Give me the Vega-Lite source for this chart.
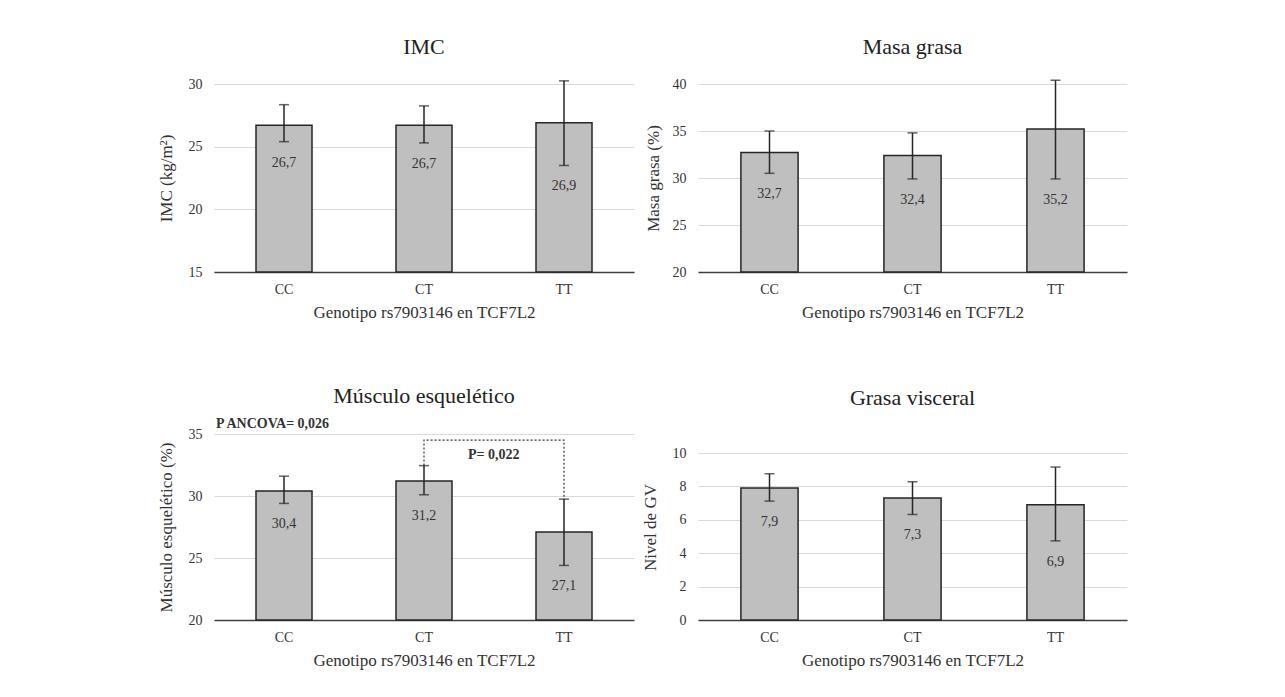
{
  "$schema": "https://vega.github.io/schema/vega-lite/v6.json",
  "background": "white",
  "padding": {"left": 157, "top": 36, "right": 5, "bottom": 5},
  "datasets": {
    "barras": [
      {"panel": "IMC", "genotipo": "CC", "media": 26.7, "inf": 25.4, "sup": 28.35},
      {"panel": "IMC", "genotipo": "CT", "media": 26.7, "inf": 25.3, "sup": 28.25},
      {"panel": "IMC", "genotipo": "TT", "media": 26.9, "inf": 23.5, "sup": 30.25},
      {"panel": "MG", "genotipo": "CC", "media": 32.7, "inf": 30.5, "sup": 35.0},
      {"panel": "MG", "genotipo": "CT", "media": 32.4, "inf": 29.9, "sup": 34.8},
      {"panel": "MG", "genotipo": "TT", "media": 35.2, "inf": 29.9, "sup": 40.4},
      {"panel": "ME", "genotipo": "CC", "media": 30.4, "inf": 29.4, "sup": 31.6},
      {"panel": "ME", "genotipo": "CT", "media": 31.2, "inf": 30.1, "sup": 32.45},
      {"panel": "ME", "genotipo": "TT", "media": 27.1, "inf": 24.4, "sup": 29.75},
      {"panel": "GV", "genotipo": "CC", "media": 7.9, "inf": 7.12, "sup": 8.76},
      {"panel": "GV", "genotipo": "CT", "media": 7.3, "inf": 6.32, "sup": 8.28},
      {"panel": "GV", "genotipo": "TT", "media": 6.9, "inf": 4.74, "sup": 9.16}
    ],
    "corchete": [
      {"genotipo": "CT", "valor": 32.45, "orden": 1},
      {"genotipo": "CT", "valor": 34.5, "orden": 2},
      {"genotipo": "TT", "valor": 34.5, "orden": 3},
      {"genotipo": "TT", "valor": 29.75, "orden": 4}
    ],
    "anotaciones": [
      {"texto": "P ANCOVA= 0,026", "genotipo": "CC", "valor": 35, "tipo": "global"},
      {"texto": "P= 0,022", "genotipo": "CT", "valor": 33.3, "tipo": "par"}
    ]
  },
  "concat": [
    {
      "width": 420, "height": 188,
      "title": {"text": "IMC", "offset": 18},
      "data": {"name": "barras"},
      "transform": [{"filter": "datum.panel == 'IMC'"}],
      "encoding": {
        "x": {"field": "genotipo", "type": "nominal", "sort": ["CC", "CT", "TT"],
              "scale": {"paddingInner": 0.6, "paddingOuter": 0.3},
              "axis": {"title": "Genotipo rs7903146 en TCF7L2", "labelAngle": 0}}
      },
      "layer": [
        {"mark": {"type": "bar", "fill": "#bfbfbf", "stroke": "#262626", "strokeWidth": 1.5},
         "encoding": {"y": {"field": "media", "type": "quantitative", "title": "IMC  (kg/m²)",
                            "scale": {"domain": [15, 30], "nice": false, "zero": false},
                            "axis": {"values": [15, 20, 25, 30], "tickCount": 20, "format": "d", "titlePadding": 13}},
                      "y2": {"datum": 15}}},
        {"mark": {"type": "errorbar", "color": "#262626", "thickness": 1.5, "ticks": {"size": 10, "thickness": 1.5, "color": "#262626"}},
         "encoding": {"y": {"field": "inf", "type": "quantitative", "title": "IMC  (kg/m²)"}, "y2": {"field": "sup"}}},
        {"mark": {"type": "text", "dy": 21, "fontSize": 14, "color": "#333333", "baseline": "middle"},
         "encoding": {"y": {"field": "inf", "type": "quantitative", "title": "IMC  (kg/m²)"}, "text": {"field": "media", "type": "quantitative", "format": ".1f"}}}
      ]
    },
    {
      "width": 429, "height": 188,
      "title": {"text": "Masa grasa", "offset": 18},
      "data": {"name": "barras"},
      "transform": [{"filter": "datum.panel == 'MG'"}],
      "encoding": {
        "x": {"field": "genotipo", "type": "nominal", "sort": ["CC", "CT", "TT"],
              "scale": {"paddingInner": 0.6, "paddingOuter": 0.3},
              "axis": {"title": "Genotipo rs7903146 en TCF7L2", "labelAngle": 0}}
      },
      "layer": [
        {"mark": {"type": "bar", "fill": "#bfbfbf", "stroke": "#262626", "strokeWidth": 1.5},
         "encoding": {"y": {"field": "media", "type": "quantitative", "title": "Masa grasa (%)",
                            "scale": {"domain": [20, 40], "nice": false, "zero": false},
                            "axis": {"values": [20, 25, 30, 35, 40], "tickCount": 20, "format": "d", "titlePadding": 10}},
                      "y2": {"datum": 20}}},
        {"mark": {"type": "errorbar", "color": "#262626", "thickness": 1.5, "ticks": {"size": 10, "thickness": 1.5, "color": "#262626"}},
         "encoding": {"y": {"field": "inf", "type": "quantitative", "title": "Masa grasa (%)"}, "y2": {"field": "sup"}}},
        {"mark": {"type": "text", "dy": 21, "fontSize": 14, "color": "#333333", "baseline": "middle"},
         "encoding": {"y": {"field": "inf", "type": "quantitative", "title": "Masa grasa (%)"}, "text": {"field": "media", "type": "quantitative", "format": ".1f"}}}
      ]
    },
    {
      "width": 420, "height": 186,
      "title": {"text": "Músculo esquelético", "offset": 9},
      "encoding": {
        "x": {"field": "genotipo", "type": "nominal", "sort": ["CC", "CT", "TT"],
              "scale": {"paddingInner": 0.6, "paddingOuter": 0.3},
              "axis": {"title": "Genotipo rs7903146 en TCF7L2", "labelAngle": 0}}
      },
      "layer": [
        {"data": {"name": "barras"}, "transform": [{"filter": "datum.panel == 'ME'"}],
         "mark": {"type": "bar", "fill": "#bfbfbf", "stroke": "#262626", "strokeWidth": 1.5},
         "encoding": {"y": {"field": "media", "type": "quantitative", "title": "Músculo esquelético (%)",
                            "scale": {"domain": [20, 35], "nice": false, "zero": false},
                            "axis": {"values": [20, 25, 30, 35], "tickCount": 20, "format": "d", "titlePadding": 13}},
                      "y2": {"datum": 20}}},
        {"data": {"name": "barras"}, "transform": [{"filter": "datum.panel == 'ME'"}],
         "mark": {"type": "errorbar", "color": "#262626", "thickness": 1.5, "ticks": {"size": 10, "thickness": 1.5, "color": "#262626"}},
         "encoding": {"y": {"field": "inf", "type": "quantitative", "title": "Músculo esquelético (%)"}, "y2": {"field": "sup"}}},
        {"data": {"name": "barras"}, "transform": [{"filter": "datum.panel == 'ME'"}],
         "mark": {"type": "text", "dy": 21, "fontSize": 14, "color": "#333333", "baseline": "middle"},
         "encoding": {"y": {"field": "inf", "type": "quantitative", "title": "Músculo esquelético (%)"}, "text": {"field": "media", "type": "quantitative", "format": ".1f"}}},
        {"data": {"name": "corchete"},
         "mark": {"type": "line", "color": "#333333", "strokeWidth": 1.2, "strokeDash": [2, 2]},
         "encoding": {"y": {"field": "valor", "type": "quantitative", "title": "Músculo esquelético (%)"}, "order": {"field": "orden", "type": "quantitative"}}},
        {"data": {"name": "anotaciones"}, "transform": [{"filter": "datum.tipo == 'global'"}],
         "mark": {"type": "text", "align": "left", "baseline": "middle", "dx": -68, "dy": -10, "fontSize": 14, "fontWeight": "bold", "color": "#333333"},
         "encoding": {"y": {"field": "valor", "type": "quantitative", "title": "Músculo esquelético (%)"}, "text": {"field": "texto"}}},
        {"data": {"name": "anotaciones"}, "transform": [{"filter": "datum.tipo == 'par'"}],
         "mark": {"type": "text", "align": "left", "baseline": "middle", "dx": 44, "fontSize": 14, "fontWeight": "bold", "color": "#333333"},
         "encoding": {"y": {"field": "valor", "type": "quantitative", "title": "Músculo esquelético (%)"}, "text": {"field": "texto"}}}
      ]
    },
    {
      "width": 429, "height": 186,
      "title": {"text": "Grasa visceral", "offset": 24},
      "data": {"name": "barras"},
      "transform": [{"filter": "datum.panel == 'GV'"}],
      "encoding": {
        "x": {"field": "genotipo", "type": "nominal", "sort": ["CC", "CT", "TT"],
              "scale": {"paddingInner": 0.6, "paddingOuter": 0.3},
              "axis": {"title": "Genotipo rs7903146 en TCF7L2", "labelAngle": 0}}
      },
      "layer": [
        {"mark": {"type": "bar", "fill": "#bfbfbf", "stroke": "#262626", "strokeWidth": 1.5},
         "encoding": {"y": {"field": "media", "type": "quantitative", "title": "Nivel de GV",
                            "scale": {"domain": [0, 11.14], "nice": false},
                            "axis": {"values": [0, 2, 4, 6, 8, 10], "tickCount": 20, "format": "d", "titlePadding": 13}},
                      "y2": {"datum": 0}}},
        {"mark": {"type": "errorbar", "color": "#262626", "thickness": 1.5, "ticks": {"size": 10, "thickness": 1.5, "color": "#262626"}},
         "encoding": {"y": {"field": "inf", "type": "quantitative", "title": "Nivel de GV"}, "y2": {"field": "sup"}}},
        {"mark": {"type": "text", "dy": 21, "fontSize": 14, "color": "#333333", "baseline": "middle"},
         "encoding": {"y": {"field": "inf", "type": "quantitative", "title": "Nivel de GV"}, "text": {"field": "media", "type": "quantitative", "format": ".1f"}}}
      ]
    }
  ],
  "columns": 2,
  "spacing": {"row": 162, "column": 64},
  "bounds": "flush",
  "config": {
    "font": "Liberation Serif",
    "locale": {"number": {"decimal": ",", "thousands": ".", "grouping": [3], "currency": ["", " €"]}},
    "view": {"stroke": null},
    "axis": {
      "labelFont": "Liberation Serif", "labelFontSize": 14, "labelColor": "#333333",
      "titleFont": "Liberation Serif", "titleFontSize": 17, "titleFontWeight": "normal", "titleColor": "#333333",
      "gridColor": "#d9d9d9", "gridWidth": 1, "ticks": false, "domain": false
    },
    "axisX": {"domain": true, "domainColor": "#404040", "domainWidth": 1.5, "grid": false, "labelPadding": 10, "titlePadding": 8},
    "axisY": {"grid": true, "labelPadding": 12, "titlePadding": 12},
    "title": {"font": "Liberation Serif", "fontSize": 22, "fontWeight": "normal", "color": "#222222", "offset": 20}
  }
}
